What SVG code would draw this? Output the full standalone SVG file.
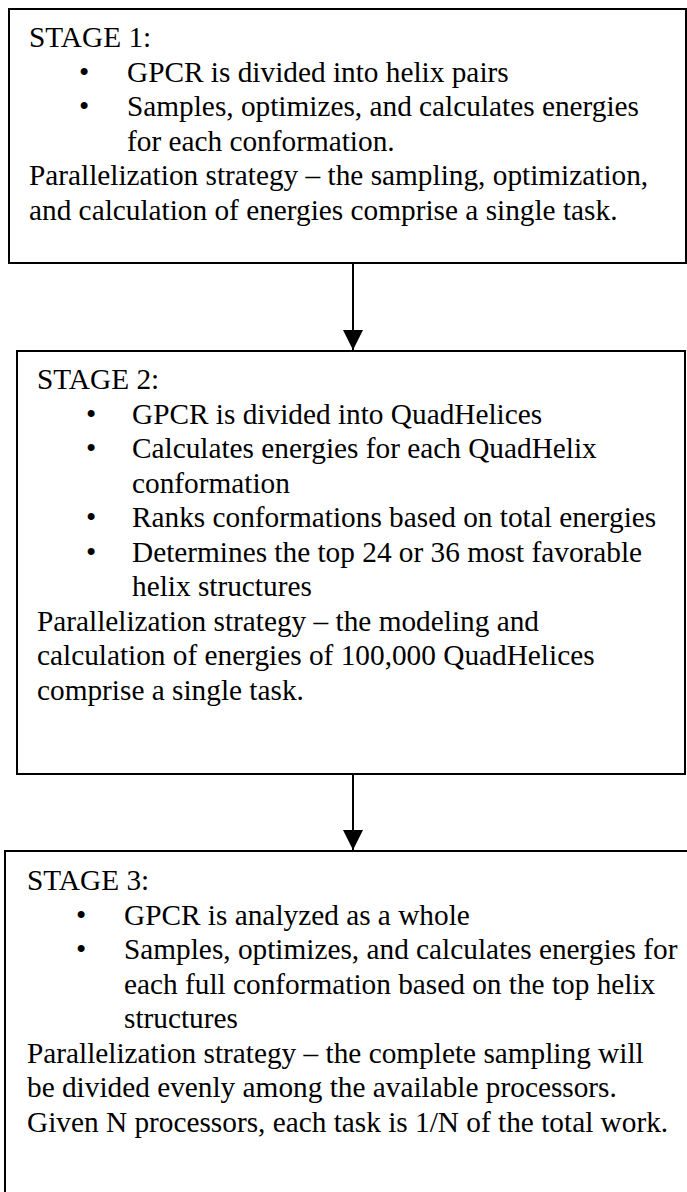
<svg xmlns="http://www.w3.org/2000/svg" width="687" height="1192" viewBox="0 0 687 1192">
<style>
.box{fill:#fff;stroke:#000;stroke-width:2}
text{font-family:"Liberation Serif","Times New Roman",serif;font-size:29.3px;fill:#000}
.conn{stroke:#000;stroke-width:2;fill:none}
</style>
<defs>
<marker id="ah" markerUnits="userSpaceOnUse" markerWidth="20" markerHeight="20" refX="20" refY="10" orient="auto" viewBox="0 0 20 20">
<path d="M0,0 L20,10 L0,20 Z" fill="#000"/>
</marker>
</defs>
<rect width="687" height="1192" fill="#fff"/>
<g id="stage1">
<rect class="box" x="9" y="9" width="677" height="254"/>
<text x="29" y="47">STAGE 1:</text>
<text x="79" y="81.5">•</text><text x="127" y="81.5">GPCR is divided into helix pairs</text>
<text x="79" y="116">•</text><text x="127" y="116">Samples, optimizes, and calculates energies</text>
<text x="127" y="150.5">for each conformation.</text>
<text x="29" y="185">Parallelization strategy – the sampling, optimization,</text>
<text x="29" y="219.5">and calculation of energies comprise a single task.</text>
</g>
<g id="stage2">
<rect class="box" x="17" y="351" width="668" height="423"/>
<text x="37" y="389">STAGE 2:</text>
<text x="86" y="423.5">•</text><text x="132" y="423.5">GPCR is divided into QuadHelices</text>
<text x="86" y="458">•</text><text x="132" y="458">Calculates energies for each QuadHelix</text>
<text x="132" y="492.5">conformation</text>
<text x="86" y="527">•</text><text x="132" y="527">Ranks conformations based on total energies</text>
<text x="86" y="561.5">•</text><text x="132" y="561.5">Determines the top 24 or 36 most favorable</text>
<text x="132" y="596">helix structures</text>
<text x="37" y="630.5">Parallelization strategy – the modeling and</text>
<text x="37" y="665">calculation of energies of 100,000 QuadHelices</text>
<text x="37" y="699.5">comprise a single task.</text>
</g>
<g id="stage3">
<rect class="box" x="5" y="851" width="700" height="400"/>
<text x="27" y="890">STAGE 3:</text>
<text x="76" y="924.5">•</text><text x="124" y="924.5">GPCR is analyzed as a whole</text>
<text x="76" y="959">•</text><text x="124" y="959">Samples, optimizes, and calculates energies for</text>
<text x="124" y="993.5">each full conformation based on the top helix</text>
<text x="124" y="1028">structures</text>
<text x="27" y="1062.5">Parallelization strategy – the complete sampling will</text>
<text x="27" y="1097">be divided evenly among the available processors.</text>
<text x="27" y="1131.5">Given N processors, each task is 1/N of the total work.</text>
</g>
<g id="connectors">
<line class="conn" x1="353" y1="263" x2="353" y2="350" marker-end="url(#ah)"/>
<line class="conn" x1="353" y1="774" x2="353" y2="850" marker-end="url(#ah)"/>
</g>
</svg>
